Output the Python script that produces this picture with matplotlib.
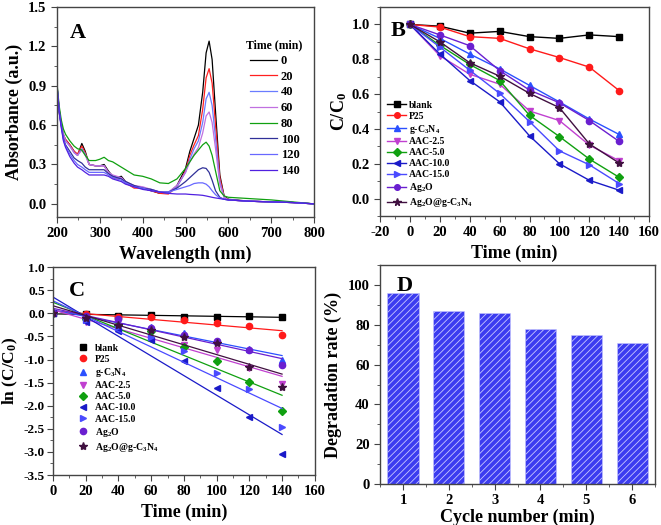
import numpy as np
import matplotlib.pyplot as plt
from matplotlib.ticker import MultipleLocator

plt.rcParams['font.family'] = 'Liberation Serif'
plt.rcParams['font.weight'] = 'bold'
plt.rcParams['mathtext.fontset'] = 'custom'
plt.rcParams['mathtext.rm'] = 'Liberation Serif:bold'
plt.rcParams['mathtext.it'] = 'Liberation Serif:bold'
plt.rcParams['mathtext.bf'] = 'Liberation Serif:bold'
plt.rcParams['hatch.linewidth'] = 0.6
plt.rcParams['axes.unicode_minus'] = False

# ---- panel A: UV-vis spectra ----
wavelength = [200, 205, 210, 215, 220, 230, 240, 248, 258, 266, 275, 290, 300, 310, 320, 330, 340,
              350, 360, 380, 400, 420, 440, 460, 480, 500, 510, 520, 530, 540, 548, 555, 562, 570,
              580, 590, 600, 650, 700, 750, 800]
abs_0 = [0.85, 0.70, 0.60, 0.52, 0.49, 0.45, 0.40, 0.37, 0.46, 0.40, 0.30, 0.29, 0.29, 0.30, 0.25, 0.21, 0.20,
         0.21, 0.17, 0.13, 0.12, 0.10, 0.08, 0.08, 0.14, 0.27, 0.40, 0.50, 0.60, 0.85, 1.15, 1.24, 1.10, 0.70,
         0.22, 0.06, 0.035, 0.02, 0.015, 0.01, 0.0]
abs_20 = [0.90, 0.72, 0.61, 0.53, 0.49, 0.45, 0.40, 0.38, 0.44, 0.39, 0.30, 0.29, 0.29, 0.29, 0.24, 0.20, 0.19,
          0.20, 0.16, 0.12, 0.12, 0.10, 0.08, 0.075, 0.13, 0.25, 0.37, 0.45, 0.52, 0.72, 0.96, 1.03, 0.92, 0.60,
          0.20, 0.055, 0.03, 0.02, 0.015, 0.01, 0.0]
abs_40 = [0.91, 0.72, 0.61, 0.53, 0.48, 0.44, 0.39, 0.37, 0.42, 0.38, 0.30, 0.29, 0.29, 0.29, 0.24, 0.21, 0.20,
          0.20, 0.16, 0.13, 0.12, 0.11, 0.09, 0.08, 0.13, 0.24, 0.34, 0.42, 0.48, 0.62, 0.80, 0.85, 0.75, 0.50,
          0.17, 0.05, 0.03, 0.02, 0.015, 0.01, 0.0]
abs_60 = [0.91, 0.73, 0.61, 0.53, 0.48, 0.44, 0.39, 0.37, 0.41, 0.37, 0.30, 0.29, 0.29, 0.29, 0.24, 0.22, 0.21,
          0.20, 0.17, 0.14, 0.13, 0.11, 0.09, 0.09, 0.14, 0.24, 0.32, 0.38, 0.43, 0.54, 0.67, 0.70, 0.62, 0.42,
          0.15, 0.05, 0.03, 0.02, 0.015, 0.01, 0.0]
abs_80 = [0.92, 0.75, 0.64, 0.57, 0.53, 0.48, 0.44, 0.42, 0.41, 0.37, 0.33, 0.33, 0.34, 0.355, 0.33, 0.32, 0.30,
          0.28, 0.26, 0.22, 0.21, 0.19, 0.16, 0.155, 0.19, 0.27, 0.32, 0.37, 0.41, 0.45, 0.47, 0.44, 0.37, 0.25,
          0.10, 0.06, 0.05, 0.04, 0.03, 0.015, 0.0]
abs_100 = [0.90, 0.72, 0.60, 0.50, 0.45, 0.40, 0.35, 0.33, 0.31, 0.28, 0.26, 0.26, 0.26, 0.26, 0.23, 0.21, 0.20,
           0.19, 0.17, 0.14, 0.12, 0.11, 0.09, 0.09, 0.12, 0.17, 0.20, 0.23, 0.26, 0.275, 0.27, 0.24, 0.18, 0.10,
           0.05, 0.035, 0.03, 0.02, 0.015, 0.01, 0.0]
abs_120 = [0.90, 0.71, 0.59, 0.49, 0.44, 0.38, 0.33, 0.30, 0.28, 0.26, 0.24, 0.24, 0.24, 0.24, 0.22, 0.20, 0.19,
           0.18, 0.16, 0.13, 0.12, 0.10, 0.09, 0.09, 0.11, 0.13, 0.14, 0.155, 0.16, 0.16, 0.15, 0.13, 0.10, 0.07,
           0.045, 0.035, 0.03, 0.02, 0.015, 0.01, 0.0]
abs_140 = [0.90, 0.70, 0.58, 0.48, 0.43, 0.36, 0.31, 0.28, 0.26, 0.24, 0.22, 0.22, 0.22, 0.22, 0.21, 0.19, 0.18,
           0.17, 0.15, 0.13, 0.11, 0.10, 0.09, 0.08, 0.075, 0.075, 0.072, 0.07, 0.068, 0.065, 0.06, 0.055, 0.05, 0.045,
           0.04, 0.035, 0.03, 0.02, 0.015, 0.01, 0.0]
spectra = [abs_0, abs_20, abs_40, abs_60, abs_80, abs_100, abs_120, abs_140]
spectra_labels = ['0', '20', '40', '60', '80', '100', '120', '140']
spectra_colors = ['#000000', '#ff2020', '#6a7cff', '#c070e0', '#10a010', '#303098', '#6868ff', '#5020e0']

# ---- panel B / C: degradation kinetics ----
time_min = [0, 20, 40, 60, 80, 100, 120, 140]
c_blank = [1.0, 0.99, 0.95, 0.96, 0.93, 0.92, 0.94, 0.93]
c_p25 = [1.0, 0.985, 0.93, 0.92, 0.86, 0.81, 0.755, 0.62]
c_gcn = [1.0, 0.92, 0.83, 0.745, 0.65, 0.555, 0.457, 0.368]
c_aac25 = [1.0, 0.82, 0.714, 0.657, 0.503, 0.448, 0.307, 0.217]
c_aac50 = [1.0, 0.88, 0.77, 0.678, 0.478, 0.356, 0.227, 0.122]
c_aac100 = [1.0, 0.83, 0.678, 0.556, 0.36, 0.20, 0.105, 0.048]
c_aac150 = [1.0, 0.87, 0.737, 0.604, 0.442, 0.274, 0.194, 0.086]
c_ag2o = [1.0, 0.94, 0.878, 0.735, 0.623, 0.55, 0.448, 0.328]
c_ag2o_gcn = [1.0, 0.90, 0.78, 0.703, 0.604, 0.522, 0.314, 0.204]

series = [c_blank, c_p25, c_gcn, c_aac25, c_aac50, c_aac100, c_aac150, c_ag2o, c_ag2o_gcn]
labels = ['blank', 'P25', r'g-C$_3$N$_4$', 'AAC-2.5', 'AAC-5.0', 'AAC-10.0', 'AAC-15.0',
          r'Ag$_2$O', r'Ag$_2$O@g-C$_3$N$_4$']
colors = ['#000000', '#ff1a1a', '#2a50ff', '#c040d0', '#10a010', '#1a1ac8', '#4a4aff', '#6a1fd0', '#401040']
markers = ['s', 'o', '^', 'v', 'D', '<', '>', 'o', '*']

# ---- panel D: recycling ----
cycles = [1, 2, 3, 4, 5, 6]
degradation = [96, 87, 86, 78, 75, 71]

fig = plt.figure(figsize=(6.61, 5.25), dpi=100)
axA = fig.add_axes([0.0862, 0.5867, 0.389, 0.400])
axB = fig.add_axes([0.575, 0.5886, 0.407, 0.398])
axC = fig.add_axes([0.0802, 0.0952, 0.396, 0.396])
axD = fig.add_axes([0.575, 0.078, 0.416, 0.417])


def style(ax):
    for s in ax.spines.values():
        s.set_color('#444444')
        s.set_linewidth(1.0)
    ax.tick_params(which='both', direction='out', top=False, right=False, labelsize=10.5, color='#444444')
    ax.tick_params(which='major', length=4)
    ax.tick_params(which='minor', length=2)


# A
for y, lab, col in zip(spectra, spectra_labels, spectra_colors):
    axA.plot(wavelength, y, color=col, lw=0.9, label=lab)
axA.set_xlim(200, 800)
axA.set_ylim(-0.1, 1.5)
axA.xaxis.set_major_locator(MultipleLocator(100))
axA.xaxis.set_minor_locator(MultipleLocator(50))
axA.yaxis.set_major_locator(MultipleLocator(0.3))
axA.yaxis.set_minor_locator(MultipleLocator(0.15))
axA.set_xlabel('Wavelength (nm)', fontsize=13, fontweight='bold')
axA.set_ylabel('Absorbance (a.u.)', fontsize=13, fontweight='bold')
axA.text(0.05, 0.85, 'A', transform=axA.transAxes, fontsize=16, fontweight='bold')
leg = axA.legend(title='Time (min)', frameon=False, loc='upper right', bbox_to_anchor=(1.0, 0.9),
                 fontsize=9, title_fontsize=8.5, handlelength=2.2, labelspacing=0.3, handletextpad=0.3)
leg.get_title().set_fontweight('bold')
style(axA)

# B
for y, lab, col, m in zip(series, labels, colors, markers):
    ms = 6 if m == '*' else 4.5
    axB.plot(time_min, y, color=col, marker=m, ms=ms, lw=1.0, label=lab)
axB.set_xlim(-20, 160)
axB.set_ylim(-0.1, 1.1)
axB.xaxis.set_major_locator(MultipleLocator(20))
axB.xaxis.set_minor_locator(MultipleLocator(10))
axB.yaxis.set_major_locator(MultipleLocator(0.2))
axB.yaxis.set_minor_locator(MultipleLocator(0.1))
axB.set_xlabel('Time (min)', fontsize=13, fontweight='bold')
axB.set_ylabel(r'C/C$_0$', fontsize=13, fontweight='bold', labelpad=2)
axB.text(0.04, 0.86, 'B', transform=axB.transAxes, fontsize=16, fontweight='bold')
axB.legend(frameon=False, loc='lower left', bbox_to_anchor=(0.0, 0.0), fontsize=7,
           handlelength=2.0, labelspacing=0.2, handletextpad=0.3, borderaxespad=0.3, markerscale=0.9)
style(axB)

# C
t = np.array(time_min)
for y, lab, col, m in zip(series, labels, colors, markers):
    lny = np.log(np.array(y))
    ms = 6 if m == '*' else 4.5
    axC.plot(t, lny, linestyle='none', color=col, marker=m, ms=ms, label=lab)
    k, b = np.polyfit(t, lny, 1)
    axC.plot(t, k * t + b, color=col, lw=0.9)
axC.set_xlim(0, 160)
axC.set_ylim(-3.5, 1.0)
axC.xaxis.set_major_locator(MultipleLocator(20))
axC.xaxis.set_minor_locator(MultipleLocator(10))
axC.yaxis.set_major_locator(MultipleLocator(0.5))
axC.yaxis.set_minor_locator(MultipleLocator(0.25))
axC.set_xlabel('Time (min)', fontsize=13, fontweight='bold')
axC.set_ylabel(r'ln (C/C$_0$)', fontsize=12.5, fontweight='bold')
axC.yaxis.set_label_coords(-0.128, 0.5)
axC.text(0.06, 0.86, 'C', transform=axC.transAxes, fontsize=16, fontweight='bold')
axC.legend(frameon=False, loc='lower left', bbox_to_anchor=(0.06, 0.06), fontsize=7,
           handlelength=1.2, labelspacing=0.22, handletextpad=0.6)
style(axC)
axC.tick_params(axis='y', labelsize=9.5, pad=2)

# D
axD.bar(cycles, degradation, width=0.68, color='#3c3cf0', edgecolor='#c8c8ff', hatch='/////', lw=0.4)
axD.set_xlim(0.5, 6.5)
axD.set_ylim(0, 110)
axD.xaxis.set_major_locator(MultipleLocator(1))
axD.xaxis.set_minor_locator(MultipleLocator(0.5))
axD.yaxis.set_major_locator(MultipleLocator(20))
axD.yaxis.set_minor_locator(MultipleLocator(10))
axD.set_xlabel('Cycle number (min)', fontsize=13, fontweight='bold', labelpad=1)
axD.set_ylabel('Degradation rate (%)', fontsize=13, fontweight='bold')
axD.text(0.06, 0.88, 'D', transform=axD.transAxes, fontsize=16, fontweight='bold')
style(axD)

fig.savefig('out.png', dpi=100)
